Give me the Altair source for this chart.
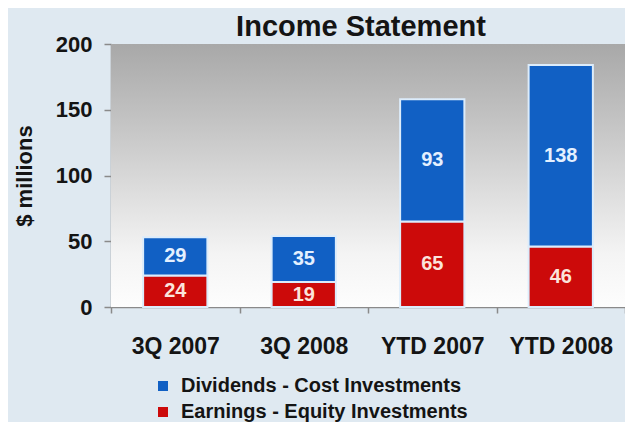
import altair as alt
import pandas as pd

categories = ["3Q 2007", "3Q 2008", "YTD 2007", "YTD 2008"]
earnings = [24, 19, 65, 46]
dividends = [29, 35, 93, 138]
series = ["Dividends - Cost Investments", "Earnings - Equity Investments"]
bar_colors = ["#1160c4", "#cc0a0a"]
y_ticks = [0, 50, 100, 150, 200]

rows = []
for c, e, d in zip(categories, earnings, dividends):
    rows.append({"cat": c, "series": series[1], "value": e, "start": 0, "end": e})
    rows.append({"cat": c, "series": series[0], "value": d, "start": e, "end": e + d})
df = pd.DataFrame(rows)
df["mid"] = (df["start"] + df["end"]) / 2

W, H = 514, 263
FONT = "Liberation Sans"
INK = "#141414"
AXC = "#8a8a8a"

x_enc = alt.X(
    "cat:N", sort=categories,
    scale=alt.Scale(paddingInner=0, paddingOuter=0),
    axis=alt.Axis(title=None, labelAngle=0, labelFontSize=23, labelFont=FONT,
                  labelFontWeight="bold", labelColor=INK, labelPadding=22,
                  tickBand="extent", tickSize=6, tickColor=AXC, tickWidth=1.5,
                  domainColor=AXC, domainWidth=1.5),
)
y_enc = alt.Y(
    "end:Q",
    scale=alt.Scale(domain=[0, 200], nice=False),
    axis=alt.Axis(values=y_ticks, title="$ millions", grid=False,
                  labelFontSize=22, labelFont=FONT, labelFontWeight="bold",
                  labelColor=INK, labelPadding=12, tickSize=7, tickColor=AXC,
                  tickWidth=1.5, domainColor=AXC, domainWidth=1.5,
                  titleFont=FONT, titleFontSize=22, titleFontWeight="bold",
                  titleColor=INK, titleX=-87, titleY=H / 2, titleAngle=270,
                  titleAlign="center", titleBaseline="middle"),
)

bg = alt.Chart(pd.DataFrame({"a": [0]})).mark_rect(
    fill=alt.Gradient(
        gradient="linear",
        stops=[
            alt.GradientStop(color="#a8a8a8", offset=0),
            alt.GradientStop(color="#c4c4c4", offset=0.3),
            alt.GradientStop(color="#dcdcdc", offset=0.55),
            alt.GradientStop(color="#f4f4f4", offset=0.8),
            alt.GradientStop(color="#fdfdfd", offset=1),
        ],
        x1=0, x2=0, y1=0, y2=1,
    )
).encode(x=alt.value(0), x2=alt.value("width"), y=alt.value(0), y2=alt.value("height"))

bars = alt.Chart(df).mark_bar(
    width=alt.RelativeBandSize(0.5), stroke="#dcecfb", strokeWidth=2
).encode(
    x=x_enc, y=y_enc, y2="start:Q",
    color=alt.Color(
        "series:N",
        scale=alt.Scale(domain=series, range=bar_colors),
        legend=alt.Legend(title=None, orient="none", legendX=42, legendY=332,
                          direction="vertical", symbolType="square",
                          symbolSize=100, symbolStrokeWidth=0,
                          labelFont=FONT, labelFontSize=20,
                          labelFontWeight="bold", labelColor=INK,
                          labelLimit=500, rowPadding=6, padding=0,
                          labelOffset=8),
    ),
)

labels = alt.Chart(df).mark_text(
    font=FONT, fontWeight="bold", fontSize=20, baseline="middle"
).encode(
    x=alt.X("cat:N", sort=categories),
    y=alt.Y("mid:Q"),
    text="value:Q",
    color=alt.condition(alt.datum.series == series[0],
                        alt.value("#e4f0ff"), alt.value("#fbe4dc")),
)

chart = alt.layer(bg, bars, labels).properties(
    width=W, height=H,
    title=alt.TitleParams("Income Statement", font=FONT, fontSize=29,
                          fontWeight="bold", color=INK, anchor="middle",
                          dx=-7, dy=13, offset=4),
    padding={"left": 103, "top": 36, "right": 0, "bottom": 115},
    autosize=alt.AutoSizeParams(type="none"),
).configure(background="#dfe9f1").configure_view(stroke=None)

chart.save("out.html", embed_options={"renderer": "svg", "actions": False})
